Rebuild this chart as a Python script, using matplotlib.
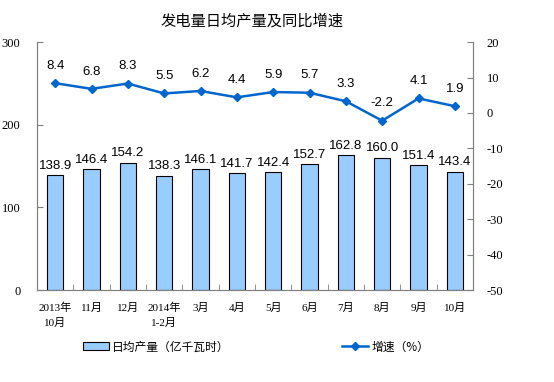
import numpy as np
import matplotlib.pyplot as plt
from matplotlib.patches import Patch
from matplotlib.lines import Line2D

months = ['2013年\n10月', '11月', '12月', '2014年\n1-2月', '3月', '4月', '5月',
          '6月', '7月', '8月', '9月', '10月']
output = [138.9, 146.4, 154.2, 138.3, 146.1, 141.7, 142.4, 152.7, 162.8, 160.0, 151.4, 143.4]
growth = [8.4, 6.8, 8.3, 5.5, 6.2, 4.4, 5.9, 5.7, 3.3, -2.2, 4.1, 1.9]

plt.rcParams['axes.unicode_minus'] = False
cjk = ['Noto Sans CJK SC', 'DejaVu Sans']
serif = ['Liberation Serif', 'Noto Sans CJK SC']
bar_color = '#99CCFF'
line_color = '#0066CC'

fig = plt.figure(figsize=(5.54, 3.82), dpi=100)
ax = fig.add_axes([0.0668, 0.2408, 0.787, 0.649])
ax2 = ax.twinx()

x = np.arange(len(months))
ax.bar(x, output, width=0.45, color=bar_color, edgecolor='black', linewidth=0.8, zorder=2)
for xi, v in zip(x, output):
    ax.text(xi, v + 4, f'{v:.1f}', ha='center', va='bottom', fontsize=9.5,
            family='Liberation Sans')

ax2.plot(x, growth, color=line_color, marker='D', markersize=4, linewidth=1.8, zorder=3)
for xi, v in zip(x, growth):
    ax2.text(xi, v + 3.2, f'{v:.1f}', ha='center', va='bottom', fontsize=9.5,
             family='Liberation Sans')

ax.set_xlim(-0.5, len(months) - 0.5)
ax.set_ylim(0, 300)
ax.set_yticks([0, 100, 200, 300])
ax2.set_ylim(-50, 20)
ax2.set_yticks(range(-50, 21, 10))

ax.set_xticks(x)
ax.set_xticklabels(months, family=serif, fontsize=8, linespacing=1.6)
ax.set_xticks(np.arange(-0.5, len(months), 1), minor=True)
ax.tick_params(axis='x', which='major', length=0, pad=9)
ax.tick_params(axis='x', which='minor', length=4, color='#808080', direction='in')

for a in (ax, ax2):
    for s in a.spines.values():
        s.set_color('#808080')
    a.spines['top'].set_visible(False)
ax.tick_params(axis='y', labelsize=9, color='#808080', length=4, direction='in', pad=12)
ax2.tick_params(axis='y', labelsize=9, color='#808080', length=4, direction='in', pad=10)
for lbl in ax.get_yticklabels() + ax2.get_yticklabels():
    lbl.set_family(serif)

fig.text(0.455, 0.945, '发电量日均产量及同比增速', ha='center', va='center',
         fontsize=11, family=cjk)

h1 = Patch(facecolor=bar_color, edgecolor='black', linewidth=0.8)
h2 = Line2D([0], [0], color=line_color, marker='D', markersize=4, linewidth=1.8)
fig.legend([h1, h2], ['日均产量（亿千瓦时）', '增速（%）'], loc='center',
           bbox_to_anchor=(0.462, 0.092), ncol=2, frameon=False, columnspacing=9.5,
           handlelength=2.2, handletextpad=0.3, prop={'family': cjk, 'size': 8.5})

fig.savefig('out.png', dpi=100)
